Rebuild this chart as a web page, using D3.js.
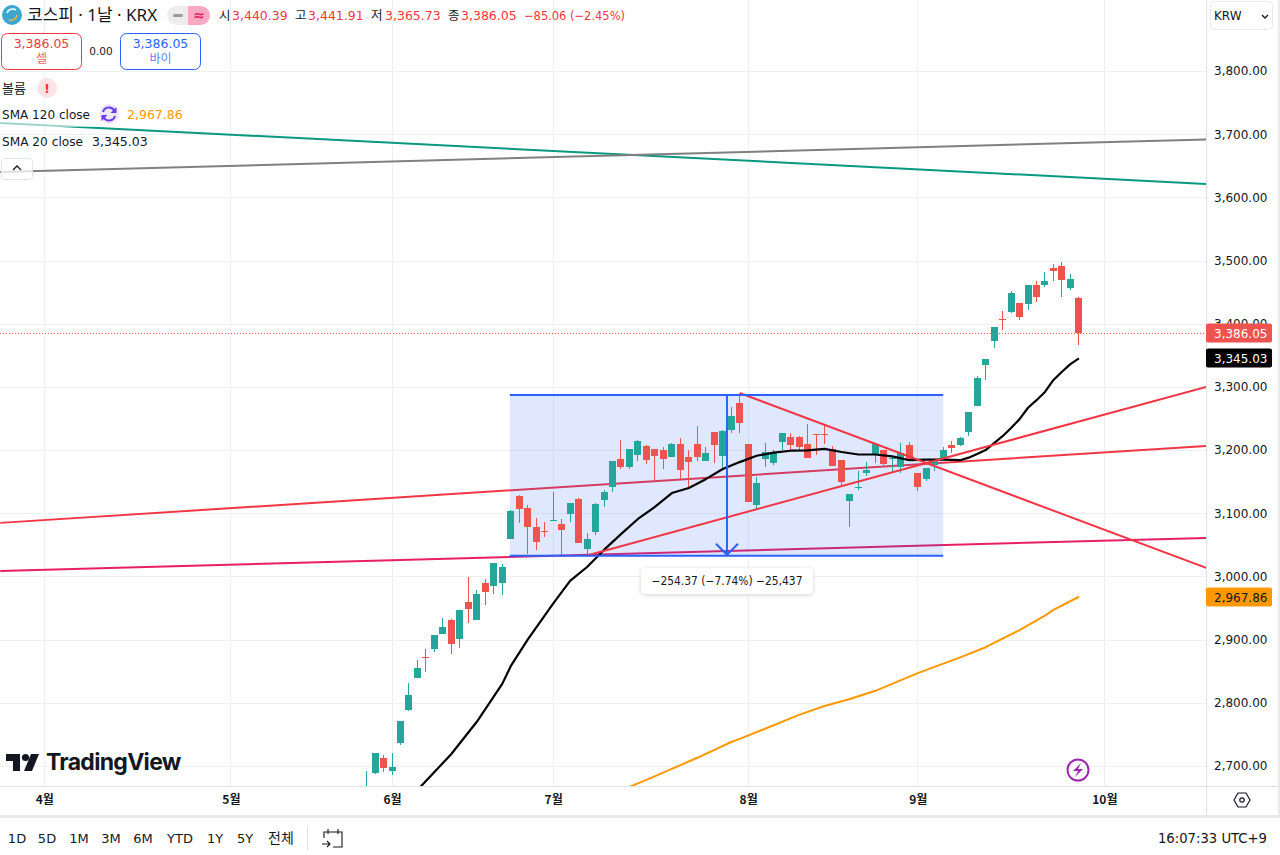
<!DOCTYPE html>
<html>
<head>
<meta charset="utf-8">
<script src="https://d3js.org/d3.v7.min.js"></script>
<style>
  html, body { margin: 0; padding: 0; background: #fff; }
  svg { display: block; }
  text { font-family: "DejaVu Sans", "Noto Sans CJK KR", sans-serif; fill: #131722; }
  .axis path, .axis line { display: none; }
</style>
</head>
<body>
<div id="my_dataviz"></div>

<script>
    // daily candles, first one is three sessions before 2 June
    var firstBar = -3;
    var opens = [2650,2689,2713,2692,2737,2789,2839,2873,2885,2909,2931,2901,2960,2931,2990,2985,2990,3059,3127,3108,3078,3072,3088,3083,3099,3123,3044,3070,3121,3142,3186,3173,3192,3207,3202,3200,3189,3210,3189,3210,3183,3229,3191,3232,3275,3210,3113,3186,3180,3213,3221,3221,3210,3226,3226,3202,3184,3120,3141,3164,3194,3200,3187,3173,3208,3164,3154,3176,3186,3208,3208,3229,3270,3335,3373,3408,3419,3433,3431,3461,3461,3488,3491,3457,3440.39];
    var highs = [2692,2721,2718,2721,2772,2832,2868,2885,2908,2934,2933,2947,2999,2979,2996,3022,3020,3105,3129,3113,3093,3086,3134,3091,3117,3124,3069,3116,3137,3183,3216,3202,3216,3208,3202,3205,3211,3219,3200,3238,3205,3229,3232,3268,3289,3210,3158,3211,3200,3227,3227,3222,3241,3226,3240,3206,3184,3131,3167,3181,3210,3200,3191,3211,3213,3164,3172,3186,3205,3214,3221,3260,3317,3344,3395,3420,3452,3433,3461,3468,3482,3495,3498,3479,3441.91];
    var lows = [2645,2688,2691,2686,2733,2787,2839,2849,2881,2909,2877,2887,2926,2931,2955,2972,2971,3059,3085,3036,3042,3063,3088,3032,3086,3053,3032,3066,3110,3134,3170,3170,3183,3178,3153,3170,3189,3154,3142,3183,3183,3180,3169,3227,3227,3118,3105,3173,3176,3200,3199,3200,3188,3192,3210,3175,3145,3078,3137,3159,3180,3176,3165,3164,3184,3135,3151,3167,3186,3195,3207,3222,3270,3311,3362,3390,3417,3406,3422,3434,3458,3468,3442,3453,3365.73];
    var closes = [2660,2721,2697,2699,2771,2813,2855,2871,2907,2920,2893,2947,2949,2972,2976,3021,3015,3104,3107,3078,3055,3071,3089,3074,3116,3053,3059,3115,3134,3183,3173,3202,3214,3184,3191,3186,3210,3169,3181,3189,3195,3208,3230,3254,3243,3118,3148,3197,3197,3227,3208,3205,3188,3225,3225,3175,3150,3131,3142,3169,3210,3178,3188,3195,3184,3142,3172,3184,3200,3203,3219,3260,3314,3344,3395,3406,3449,3411,3461,3442,3468,3483,3469,3471,3386.05];

    // moving averages at these bars
    var sma20Bars = [3,7,10,13,14,16,19,21,23,25,27,29,31,33,35,37,39,41,43,45,47,49,51,53,55,57,59,61,63,65,67,68,69,70,71,72,73,74,75,76,77,78,79,80,81];
    var sma20Values = [2662,2719,2770,2830,2858,2900,2957,2993,3015,3042,3067,3091,3110,3132,3140,3154,3170,3181,3191,3196,3199,3199.5,3202,3197,3193,3193,3190,3184,3185,3185,3184,3188,3194,3200,3211,3222,3235,3249,3267,3279,3292,3311,3324,3336,3345.03];
    var sma120Bars = [28,30,36,40,41,44,48,51,54,57,62,67,70,74,77,78,81];
    var sma120Values = [2667,2678,2713,2738,2743,2759,2781,2795,2806,2819,2847,2872,2888,2915,2938,2947,2967.86];

    // drawn trend lines: start bar, start price, end bar, end price
    var lineBack = [
        {from: [-46.2, 3084.8], to: [96, 3206.6], color: "#f23645"},
        {from: [-46.2, 3008.8], to: [96, 3061], color: "#e91e63"}
    ];
    var lineFront = [
        {from: [-46.2, 3717.7], to: [96, 3621.2], color: "#089981"},
        {from: [-46.2, 3640.1], to: [96, 3691.6], color: "#808080"},
        {from: [23, 3033.3], to: [96, 3300], color: "#f23645"},
        {from: [41, 3290.4], to: [96, 3013.5], color: "#f23645"}
    ];

    // the price range measure
    var rangeBars = [13.9, 65];
    var rangeTop = 3287.2;
    var rangeBottom = 3032.8;
    var rangeArrowBar = 39.5;
    var rangeLabel = "\u2212254.37 (\u22127.74%) \u221225,437";

    var priceTicks = [3800,3700,3600,3500,3400,3300,3200,3100,3000,2900,2800,2700];
    var monthBars = [-41,-19,0,19,42,62,84];
    var monthLabels = ["4월","5월","6월","7월","8월","9월","10월"];
    var lastPrice = 3386.05;
    var lastSma20 = 3345.03;
    var lastSma120 = 2967.86;

    var headerTokens = [
        {t: "시", x: 219, c: "#131722"}, {t: "3,440.39", x: 232, c: "#f23645"},
        {t: "고", x: 295, c: "#131722"}, {t: "3,441.91", x: 308, c: "#f23645"},
        {t: "저", x: 371, c: "#131722"}, {t: "3,365.73", x: 385, c: "#f23645"},
        {t: "종", x: 448, c: "#131722"}, {t: "3,386.05", x: 461, c: "#f23645"}
    ];
    var headerChange = "\u221285.06 (\u22122.45%)";
    var rangeButtons = ["1D","5D","1M","3M","6M","YTD","1Y","5Y","전체"];
    var rangeButtonX = [17,47,79,111,143,180,215,245,281];

    // set the dimensions
    var width = 1280, height = 855, paneRight = 1206, paneBottom = 786, axisBottom = 815;

    var svg = d3.select("#my_dataviz").append("svg")
        .attr("width", width).attr("height", height);

    // bar number to pixel, price to pixel
    var x = d3.scaleLinear().domain([0, 81]).range([392, 1078.9]);
    var y = d3.scaleLinear().domain([3800, 2700]).range([71, 766]);

    svg.append("clipPath").attr("id", "pane").append("rect")
        .attr("width", paneRight).attr("height", paneBottom);

    var pane = svg.append("g").attr("clip-path", "url(#pane)");

    // grid
    pane.selectAll(".hgrid").data(priceTicks).enter().append("line")
        .attr("x1", 0).attr("x2", paneRight)
        .attr("y1", function(d) { return Math.round(y(d)) + 0.5; })
        .attr("y2", function(d) { return Math.round(y(d)) + 0.5; })
        .attr("stroke", "#f0f0f3");
    pane.selectAll(".vgrid").data(monthBars).enter().append("line")
        .attr("y1", 0).attr("y2", paneBottom)
        .attr("x1", function(d) { return Math.floor(x(d)) + 0.5; })
        .attr("x2", function(d) { return Math.floor(x(d)) + 0.5; })
        .attr("stroke", "#f0f0f3");

    function trendLines(group, data) {
        group.selectAll(null).data(data).enter().append("line")
            .attr("x1", function(d) { return x(d.from[0]); })
            .attr("y1", function(d) { return y(d.from[1]); })
            .attr("x2", function(d) { return x(d.to[0]); })
            .attr("y2", function(d) { return y(d.to[1]); })
            .attr("stroke", function(d) { return d.color; })
            .attr("stroke-width", 2);
    }

    // these two sit under the blue box
    trendLines(pane, lineBack);

    pane.append("rect")
        .attr("x", x(rangeBars[0])).attr("y", y(rangeTop))
        .attr("width", x(rangeBars[1]) - x(rangeBars[0]))
        .attr("height", y(rangeBottom) - y(rangeTop))
        .attr("fill", "#2962ff").attr("fill-opacity", 0.15);

    // last price dotted line
    pane.append("line")
        .attr("x1", 0).attr("x2", paneRight)
        .attr("y1", Math.round(y(lastPrice)) + 0.5).attr("y2", Math.round(y(lastPrice)) + 0.5)
        .attr("stroke", "#ef5350").attr("stroke-dasharray", "1,2");

    // candles
    var bars = d3.range(opens.length);
    function barColor(i) { return closes[i] >= opens[i] ? "#26a69a" : "#ef5350"; }

    pane.selectAll(".wick").data(bars).enter().append("line")
        .attr("x1", function(i) { return Math.floor(x(i + firstBar)) + 0.5; })
        .attr("x2", function(i) { return Math.floor(x(i + firstBar)) + 0.5; })
        .attr("y1", function(i) { return Math.round(y(highs[i])); })
        .attr("y2", function(i) { return Math.round(y(lows[i])); })
        .attr("stroke", barColor);

    pane.selectAll(".body").data(bars).enter().append("rect")
        .attr("x", function(i) { return Math.floor(x(i + firstBar)) - 3; })
        .attr("width", 7)
        .attr("y", function(i) { return Math.round(y(Math.max(opens[i], closes[i]))); })
        .attr("height", function(i) {
            return Math.max(1, Math.round(y(Math.min(opens[i], closes[i]))) - Math.round(y(Math.max(opens[i], closes[i]))));
        })
        .attr("fill", barColor);

    // moving averages
    var smaLine = d3.line()
        .x(function(d) { return x(d[0]); })
        .y(function(d) { return y(d[1]); });

    pane.append("path").datum(d3.zip(sma120Bars, sma120Values))
        .attr("d", smaLine).attr("fill", "none").attr("stroke-linejoin", "round")
        .attr("stroke", "#ff9800").attr("stroke-width", 2);
    pane.append("path").datum(d3.zip(sma20Bars, sma20Values))
        .attr("d", smaLine).attr("fill", "none").attr("stroke-linejoin", "round")
        .attr("stroke", "#000").attr("stroke-width", 2.2);

    trendLines(pane, lineFront);

    // blue measure lines and arrow
    var blue = "#2962ff";
    [rangeTop, rangeBottom].forEach(function(p) {
        pane.append("line")
            .attr("x1", x(rangeBars[0])).attr("x2", x(rangeBars[1]))
            .attr("y1", y(p)).attr("y2", y(p))
            .attr("stroke", blue).attr("stroke-width", 2);
    });
    var ax = x(rangeArrowBar), ay = y(rangeBottom);
    pane.append("line")
        .attr("x1", ax).attr("x2", ax).attr("y1", y(rangeTop)).attr("y2", ay)
        .attr("stroke", blue).attr("stroke-width", 2);
    pane.append("path")
        .attr("d", "M" + (ax - 11) + "," + (ay - 12) + "L" + ax + "," + (ay - 1) + "L" + (ax + 11) + "," + (ay - 12))
        .attr("fill", "none").attr("stroke", blue).attr("stroke-width", 2);

    // measure label
    pane.append("rect")
        .attr("x", ax - 86).attr("y", 568).attr("width", 172).attr("height", 26).attr("rx", 4)
        .attr("fill", "#fff").style("filter", "drop-shadow(0 1px 2px rgba(0,0,0,.18))");
    pane.append("text")
        .attr("x", ax).attr("y", 585).attr("text-anchor", "middle")
        .attr("font-size", 11.5).attr("textLength", 151).attr("lengthAdjust", "spacingAndGlyphs")
        .text(rangeLabel);

    // watermark
    var wm = pane.append("g").attr("fill", "#131722");
    wm.append("path").attr("d", "M6,754H20V771H13V761H6ZM31,754H39L32,771H24Z");
    wm.append("circle").attr("cx", 25.5).attr("cy", 757.5).attr("r", 3.6);
    pane.append("text").attr("x", 46).attr("y", 770)
        .style("font-family", "Inter").attr("font-size", 23).attr("font-weight", 700)
        .attr("letter-spacing", -0.7).text("TradingView");

    // lightning mark
    pane.append("circle").attr("cx", 1078).attr("cy", 770).attr("r", 10.5)
        .attr("fill", "#fff").attr("stroke", "#9c27b0").attr("stroke-width", 2);
    pane.append("path").attr("d", "M1081,763L1073,771H1078L1075,777L1083,769H1078Z").attr("fill", "#9c27b0");

    // frame
    svg.append("rect").attr("x", paneRight).attr("width", width - paneRight).attr("height", axisBottom).attr("fill", "#fff");
    svg.append("rect").attr("y", paneBottom).attr("width", width).attr("height", axisBottom - paneBottom).attr("fill", "#fff");
    svg.append("line").attr("x1", 0).attr("x2", width).attr("y1", paneBottom + 0.5).attr("y2", paneBottom + 0.5).attr("stroke", "#e0e0e3");
    svg.append("line").attr("x1", paneRight + 0.5).attr("x2", paneRight + 0.5).attr("y1", 0).attr("y2", axisBottom).attr("stroke", "#e0e0e3");
    svg.append("rect").attr("y", axisBottom).attr("width", width).attr("height", 3).attr("fill", "#ebebeb");
    svg.append("rect").attr("x", 1278).attr("width", 2).attr("height", axisBottom).attr("fill", "#ebebeb");

    // axes
    var yAxis = d3.axisRight(y).tickValues(priceTicks).tickSize(0).tickPadding(0)
        .tickFormat(d3.format(",.2f"));
    svg.append("g").attr("class", "axis")
        .attr("transform", "translate(" + (paneRight + 8) + ",0)")
        .call(yAxis)
        .selectAll("text").attr("font-size", 12).style("font-family", null).attr("fill", "#131722");

    var xAxis = d3.axisBottom(x).tickValues(monthBars).tickSize(0).tickPadding(0)
        .tickFormat(function(d, i) { return monthLabels[i]; });
    svg.append("g").attr("class", "axis")
        .attr("transform", "translate(0," + (paneBottom + 9) + ")")
        .call(xAxis)
        .selectAll("text").attr("font-size", 12).attr("font-weight", 700)
        .style("font-family", '"Noto Sans CJK KR"').attr("fill", "#2a2e39");
    svg.selectAll(".axis .domain").remove();

    // price tags
    [[lastPrice, "#ef5350", "#fff"], [lastSma20, "#000", "#fff"], [lastSma120, "#ff9800", "#131722"]].forEach(function(d) {
        var ty = Math.round(y(d[0]));
        svg.append("rect").attr("x", paneRight).attr("y", ty - 9.5).attr("width", 66).attr("height", 19).attr("rx", 2).attr("fill", d[1]);
        svg.append("text").attr("x", paneRight + 8).attr("y", ty + 4.5)
            .attr("font-size", 12).text(d3.format(",.2f")(d[0])).style("fill", d[2]);
    });

    // currency button
    svg.append("rect").attr("x", 1210.5).attr("y", 1.5).attr("width", 62).attr("height", 28).attr("rx", 4)
        .attr("fill", "#fff").attr("stroke", "#e8eaf0");
    svg.append("text").attr("x", 1214).attr("y", 20).attr("font-size", 12).text("KRW");
    svg.append("path").attr("d", "M1262,15l3,3l3,-3").attr("fill", "none").attr("stroke", "#131722").attr("stroke-width", 1.4);

    // settings hexagon
    svg.append("path").attr("d", "M1234,800L1238,793H1246L1250,800L1246,807H1238Z").attr("fill", "none").attr("stroke", "#131722").attr("stroke-width", 1.2);
    svg.append("circle").attr("cx", 1242).attr("cy", 800).attr("r", 2.2).attr("fill", "none").attr("stroke", "#131722").attr("stroke-width", 1.2);

    // legend: white wash behind the rows
    svg.append("rect").attr("y", 103).attr("width", 155).attr("height", 24).attr("fill", "#fff").attr("fill-opacity", 0.6);

    var kr = '"Noto Sans", "Noto Sans CJK KR", sans-serif';
    svg.append("circle").attr("cx", 12).attr("cy", 15).attr("r", 10).attr("fill", "#3ba7cf");
    svg.append("path").attr("d", "M7,13A6,6 0 0 1 16,10").attr("fill", "none").attr("stroke", "#fff").attr("stroke-width", 1.6);
    svg.append("path").attr("d", "M17,15A6,6 0 0 1 9,20").attr("fill", "none").attr("stroke", "#f5b342").attr("stroke-width", 1.6);
    svg.append("text").attr("x", 27).attr("y", 21).attr("font-size", 17)
        .style("font-family", kr).text("코스피 · 1날 · KRX");

    svg.append("rect").attr("x", 167).attr("y", 6).attr("width", 43).attr("height", 19).attr("rx", 9.5).attr("fill", "#ededed");
    svg.append("path").attr("d", "M188,6H200.5A9.5,9.5 0 0 1 200.5,25H188Z").attr("fill", "#f8a9c4");
    svg.append("rect").attr("x", 173).attr("y", 14).attr("width", 10).attr("height", 3).attr("rx", 1.5).attr("fill", "#9a9a9a");
    svg.append("text").attr("x", 199).attr("y", 20).attr("text-anchor", "middle").attr("font-size", 14).attr("font-weight", 700).style("fill", "#e91e63").text("≈");

    svg.selectAll(".head").data(headerTokens).enter().append("text")
        .attr("x", function(d) { return d.x; }).attr("y", 20).attr("font-size", 12.5)
        .style("fill", function(d) { return d.c; })
        .text(function(d) { return d.t; });
    svg.append("text").attr("x", 524).attr("y", 20).attr("font-size", 12.5)
        .attr("textLength", 101).attr("lengthAdjust", "spacingAndGlyphs")
        .style("fill", "#f23645").text(headerChange);

    // sell and buy boxes
    [[1.5, "#f23645", "셀"], [120.5, "#2962ff", "바이"]].forEach(function(d) {
        svg.append("rect").attr("x", d[0]).attr("y", 33.5).attr("width", 80).attr("height", 36).attr("rx", 6)
            .attr("fill", "#fff").attr("stroke", d[1]);
        svg.append("text").attr("x", d[0] + 40).attr("y", 48).attr("text-anchor", "middle")
            .attr("font-size", 12.5).style("fill", d[1]).text(d3.format(",.2f")(lastPrice));
        svg.append("text").attr("x", d[0] + 40).attr("y", 63).attr("text-anchor", "middle")
            .attr("font-size", 12).style("fill", d[1]).attr("fill-opacity", 0.8).text(d[2]);
    });
    svg.append("text").attr("x", 101).attr("y", 55).attr("text-anchor", "middle").attr("font-size", 10.5).text("0.00");

    // legend rows
    svg.append("text").attr("x", 2).attr("y", 93).attr("font-size", 13).text("볼륨");
    svg.append("circle").attr("cx", 47).attr("cy", 88).attr("r", 10).attr("fill", "#fde3e6");
    svg.append("text").attr("x", 47).attr("y", 93).attr("text-anchor", "middle").attr("font-size", 13).attr("font-weight", 700).style("fill", "#f23645").text("!");

    svg.append("text").attr("x", 2).attr("y", 119).attr("font-size", 12.5)
        .attr("textLength", 88).attr("lengthAdjust", "spacingAndGlyphs").text("SMA 120 close");
    svg.append("circle").attr("cx", 109).attr("cy", 114).attr("r", 10).attr("fill", "#ede7fb");
    svg.append("path").attr("d", "M103,112A6.2,6.2 0 0 1 114.5,111M115,116A6.2,6.2 0 0 1 103.5,117")
        .attr("fill", "none").attr("stroke", "#6a3df0").attr("stroke-width", 2);
    svg.append("path").attr("d", "M116.5,107V113H110.5ZM101.5,121V115H107.5Z").attr("fill", "#6a3df0");
    svg.append("text").attr("x", 127).attr("y", 119).attr("font-size", 12.5).style("fill", "#ff9800").text(d3.format(",.2f")(lastSma120));
    svg.append("text").attr("x", 2).attr("y", 146).attr("font-size", 12.5)
        .attr("textLength", 81).attr("lengthAdjust", "spacingAndGlyphs").text("SMA 20 close");
    svg.append("text").attr("x", 92).attr("y", 146).attr("font-size", 12.5).text(d3.format(",.2f")(lastSma20));

    svg.append("rect").attr("x", 1.5).attr("y", 158.5).attr("width", 31).attr("height", 21).attr("rx", 3)
        .attr("fill", "#fff").attr("fill-opacity", 0.75).attr("stroke", "#e0e3eb");
    svg.append("path").attr("d", "M13,170L17,166L21,170").attr("fill", "none").attr("stroke", "#131722").attr("stroke-width", 1.3);

    // bottom toolbar
    svg.selectAll(".range").data(rangeButtons).enter().append("text")
        .attr("x", function(d, i) { return rangeButtonX[i]; })
        .attr("y", 843).attr("text-anchor", "middle")
        .attr("font-size", function(d) { return d === "전체" ? 14 : 13; })
        .text(function(d) { return d; });
    svg.append("line").attr("x1", 307.5).attr("x2", 307.5).attr("y1", 826).attr("y2", 850).attr("stroke", "#e0e3eb");
    svg.append("path")
        .attr("d", "M324,838V832H342V847H333M328,829V834M338,829V834M322,844H330M327,841L330,844L327,847")
        .attr("fill", "none").attr("stroke", "#131722").attr("stroke-width", 1.1);
    svg.append("text").attr("x", 1267).attr("y", 843).attr("text-anchor", "end").attr("font-size", 13.2).text("16:07:33 UTC+9");
</script>
</body>
</html>
